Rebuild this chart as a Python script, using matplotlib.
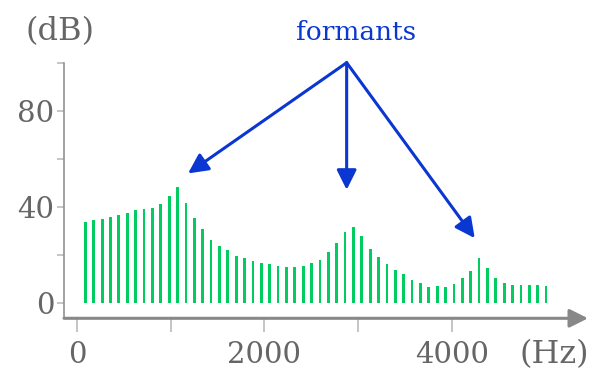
import matplotlib
matplotlib.use("Agg")
import matplotlib.pyplot as plt
import numpy as np

# harmonic spectrum: fundamental ~89.4 Hz, 56 harmonics
f0 = 89.4
levels_db = [34.0, 34.6, 35.0, 35.8, 36.8, 37.5, 38.7, 39.4, 39.8, 41.1,
             44.7, 48.2, 41.7, 35.5, 31.0, 26.5, 23.9, 22.1, 19.7, 18.9,
             17.6, 16.8, 16.2, 15.5, 15.0, 15.1, 15.7, 16.8, 17.9, 21.4,
             25.1, 29.7, 31.9, 28.0, 22.5, 19.3, 16.5, 13.7, 12.1, 9.6,
             8.3, 6.9, 7.1, 6.9, 7.9, 10.4, 13.5, 18.8, 14.6, 10.7,
             8.6, 7.6, 7.6, 7.6, 7.6, 7.1]
freqs = [f0 * (k + 1) for k in range(len(levels_db))]

xticks = [0, 1000, 2000, 3000, 4000]
xticklabels = ['0', '', '2000', '', '4000']
yticks = [0, 20, 40, 60, 80, 100]
yticklabels = ['0', '', '40', '', '80', '']

# formant arrows: origin and targets (Hz, dB)
arrow_from = (2878, 100)
arrow_to = [(1185, 54), (2878, 47.2), (4245, 27.1)]

green = '#00cc5f'
blue = '#0a36d2'
gray = '#666666'

plt.rcParams['font.family'] = ['DejaVu Serif']

fig = plt.figure(figsize=(5.91, 3.72), dpi=100)
W, H = 591, 372
ax = fig.add_axes([64 / W, (H - 318.3) / H, (588 - 64) / W, (318.3 - 62.7) / H])
ax.set_xlim(-139, 5454)
ax.set_ylim(-6.2, 100)

ax.bar(freqs, levels_db, width=30, color=green, linewidth=0)

for s in ['top', 'right', 'bottom']:
    ax.spines[s].set_visible(False)
ax.spines['left'].set_color('#888888')
ax.spines['left'].set_linewidth(1.1)

ax.set_xticks(xticks)
ax.set_xticklabels(xticklabels)
ax.set_yticks(yticks)
ax.set_yticklabels(yticklabels)
ax.tick_params(axis='x', direction='out', length=10, width=1.2, color='#bbbbbb',
               labelsize=21, labelcolor=gray, pad=6)
ax.tick_params(axis='y', direction='out', length=5, width=1.2, color='#bbbbbb',
               labelsize=21, labelcolor=gray, pad=2)

# x axis with arrow head
ax.annotate('', xy=(1.0, 0), xycoords='axes fraction', xytext=(0, 0),
            textcoords='axes fraction',
            arrowprops=dict(arrowstyle='-|>', color='#888888', lw=2.2,
                            mutation_scale=28, shrinkA=0, shrinkB=0),
            annotation_clip=False)

for tx, ty in arrow_to:
    ax.annotate('', xy=(tx, ty), xytext=arrow_from,
                arrowprops=dict(arrowstyle='-|>', color=blue, lw=2.2,
                                mutation_scale=30, shrinkA=0, shrinkB=0),
                annotation_clip=False)

fig.text(356 / W, 1 - 33 / H, 'formants', color=blue, fontsize=19,
         ha='center', va='center')
fig.text(60 / W, 1 - 32 / H, '(dB)', color=gray, fontsize=23,
         ha='center', va='center')
fig.text(554 / W, 1 - 355 / H, '(Hz)', color=gray, fontsize=23,
         ha='center', va='center')

fig.savefig('out.png', dpi=100)
